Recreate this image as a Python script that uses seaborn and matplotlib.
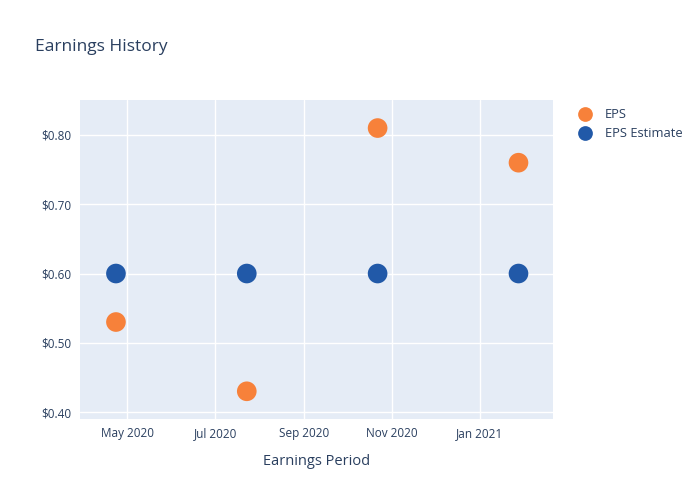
import pandas as pd
import matplotlib
matplotlib.use("Agg")
import matplotlib.pyplot as plt
import matplotlib.dates as mdates
from matplotlib.ticker import FuncFormatter
import seaborn as sns

periods = ["2020-04-23", "2020-07-23", "2020-10-22", "2021-01-28"]
eps = [0.53, 0.43, 0.81, 0.76]
eps_estimate = [0.60, 0.60, 0.60, 0.60]

df = pd.DataFrame({
    "period": pd.to_datetime(periods * 2),
    "value": eps + eps_estimate,
    "series": ["EPS"] * len(eps) + ["EPS Estimate"] * len(eps_estimate),
})

sns.set_style("darkgrid", {
    "axes.facecolor": "#e5ecf6",
    "grid.color": "white",
    "axes.edgecolor": "#e5ecf6",
})
text_color = "#2a3f5f"
plt.rcParams["font.family"] = ["Open Sans", "DejaVu Sans"]

fig = plt.figure(figsize=(7, 5), dpi=100)
ax = fig.add_axes([0.1143, 0.162, 0.6757, 0.638])

sns.scatterplot(
    data=df, x="period", y="value", hue="series",
    palette={"EPS": "#f7813a", "EPS Estimate": "#2159a8"},
    s=200, edgecolor="none", ax=ax, legend=True,
)

ax.set_xlim(pd.Timestamp("2020-03-29"), pd.Timestamp("2021-02-21"))
ax.set_ylim(0.390, 0.8505)
ax.set_yticks([0.4, 0.5, 0.6, 0.7, 0.8])
ax.yaxis.set_major_formatter(FuncFormatter(lambda v, _: f"${v:.2f}"))
ax.xaxis.set_major_locator(mdates.MonthLocator(bymonth=[1, 3, 5, 7, 9, 11]))
ax.xaxis.set_major_formatter(mdates.DateFormatter("%b %Y"))
ax.grid(True, color="white", linewidth=1)
ax.tick_params(axis="both", length=0, labelsize=8.5, colors=text_color, pad=6)
for s in ax.spines.values():
    s.set_visible(False)

ax.set_xlabel("Earnings Period", fontsize=10.5, color=text_color, labelpad=10)
ax.set_ylabel("")
fig.text(0.05, 0.898, "Earnings History", fontsize=12.5, color=text_color)

leg = ax.legend(
    loc="upper left", bbox_to_anchor=(1.015, 1.01), frameon=False,
    fontsize=9.3, handletextpad=0.55, labelspacing=0.45, markerscale=0.75,
)
for t in leg.get_texts():
    t.set_color(text_color)

fig.savefig("out.png", dpi=100)
